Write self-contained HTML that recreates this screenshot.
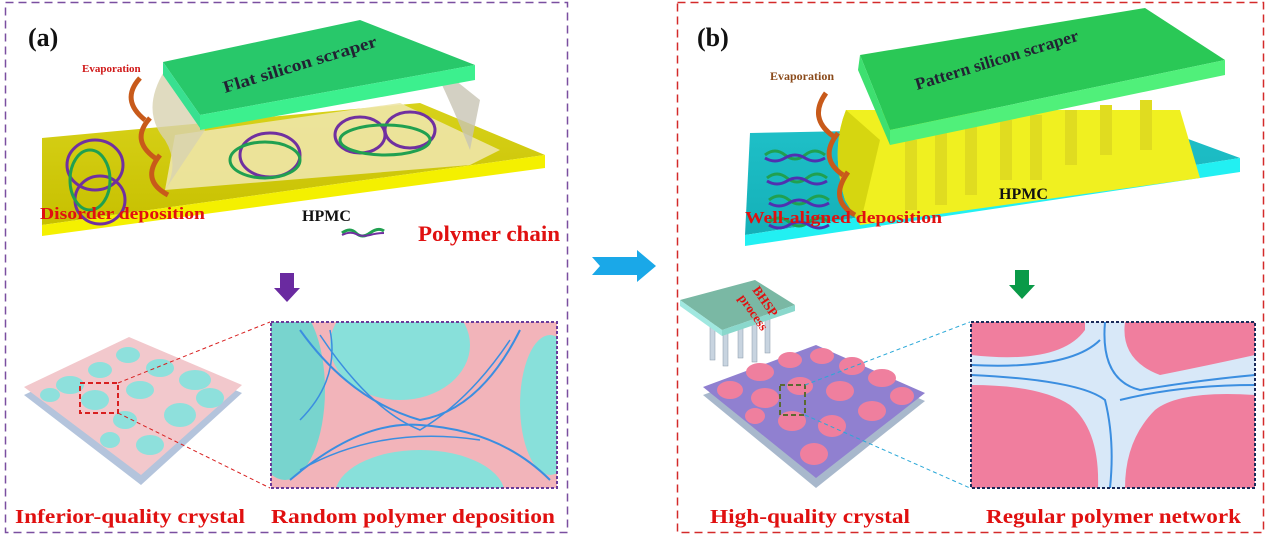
<!DOCTYPE html>
<html><head><meta charset="utf-8"><style>
html,body{margin:0;padding:0;background:#fff;}
svg{display:block;}
text{font-family:"Liberation Serif",serif;font-weight:bold;}
</style></head><body>
<svg width="1267" height="540" viewBox="0 0 1267 540" xmlns="http://www.w3.org/2000/svg">
<defs>
<linearGradient id="gy" x1="0" y1="0" x2="0" y2="1"><stop offset="0" stop-color="#d8d21a"/><stop offset="1" stop-color="#c7c000"/></linearGradient>
<linearGradient id="cy" x1="0" y1="0" x2="0" y2="1"><stop offset="0" stop-color="#1fc0c8"/><stop offset="1" stop-color="#14b0b8"/></linearGradient>
<clipPath id="ca"><rect x="271" y="322" width="286" height="166"/></clipPath>
<clipPath id="cb"><rect x="971" y="322" width="284" height="166"/></clipPath>
</defs>
<rect x="5.5" y="2.5" width="562" height="530" fill="none" stroke="#7a4fa0" stroke-width="1.5" stroke-dasharray="8,5"/>
<rect x="677.5" y="2.5" width="586" height="530" fill="none" stroke="#d42a2a" stroke-width="1.5" stroke-dasharray="8,5"/>

<!-- ===== Panel A ===== -->
<text x="28" y="46" font-size="26" fill="#111">(a)</text>
<polygon points="42,225 42,138 420,103 545,155" fill="url(#gy)"/>
<polygon points="42,225 545,155 545,168 42,236" fill="#f4f000"/>
<polygon points="165,190 175,135 400,103 500,150 470,165" fill="#eee6a8" opacity="0.9"/>
<path d="M165,70 Q140,110 165,140 Q180,165 165,190 L205,130 Z" fill="#d8d2b0" opacity="0.8"/>
<path d="M430,60 Q450,100 470,150 L480,100 Z" fill="#c8c4b4" opacity="0.8"/>
<polygon points="163,62 360,20 475,65 200,115" fill="#28c86a"/>
<polygon points="163,62 200,115 200,128 163,75" fill="#38e090"/>
<polygon points="200,115 475,65 475,80 200,130" fill="#3cf08e"/>
<text x="0" y="0" font-size="17" fill="#223" transform="translate(225,93) rotate(-17)" textLength="160" lengthAdjust="spacingAndGlyphs">Flat silicon scraper</text>
<g fill="none" stroke-width="3">
<ellipse cx="95" cy="165" rx="28" ry="25" stroke="#7030a0"/><ellipse cx="100" cy="200" rx="25" ry="24" stroke="#7030a0"/>
<ellipse cx="90" cy="180" rx="20" ry="30" stroke="#20a050"/>
<ellipse cx="270" cy="155" rx="30" ry="22" stroke="#7030a0"/><ellipse cx="265" cy="160" rx="35" ry="18" stroke="#20a050"/>
<ellipse cx="360" cy="135" rx="25" ry="18" stroke="#7030a0"/><ellipse cx="410" cy="130" rx="25" ry="18" stroke="#7030a0"/>
<ellipse cx="385" cy="140" rx="45" ry="15" stroke="#20a050"/>
</g>
<g fill="none" stroke="#c85a1a" stroke-width="5">
<path d="M168,195 Q140,180 160,155"/><path d="M155,158 Q130,140 150,118"/><path d="M145,120 Q120,100 140,78"/>
</g>
<text x="82" y="72" font-size="11" fill="#d01818">Evaporation</text>
<text x="302" y="221" font-size="16" fill="#111">HPMC</text>
<text x="40" y="219" font-size="17" fill="#e01010" textLength="165" lengthAdjust="spacingAndGlyphs">Disorder deposition</text>
<path d="M342,233 q8,-6 14,0 t14,0 t14,-2" fill="none" stroke="#20a050" stroke-width="3"/>
<path d="M342,235 q8,-4 14,-1 t14,1 t14,-2" fill="none" stroke="#7030a0" stroke-width="2"/>
<text x="418" y="241" font-size="22" fill="#e01010" textLength="142" lengthAdjust="spacingAndGlyphs">Polymer chain</text>
<polygon points="280,273 294,273 294,288 300,288 287,302 274,288 280,288" fill="#6a2aa0"/>
<!-- left crystal plate -->
<polygon points="24,395 129,345 242,393 141,485" fill="#b4c4dc"/>
<polygon points="24,387 129,337 242,385 141,475" fill="#f2c8cc"/>
<g fill="#8ee0dc">
<ellipse cx="70" cy="385" rx="14" ry="9"/><ellipse cx="100" cy="370" rx="12" ry="8"/><ellipse cx="128" cy="355" rx="12" ry="8"/>
<ellipse cx="160" cy="368" rx="14" ry="9"/><ellipse cx="195" cy="380" rx="16" ry="10"/><ellipse cx="210" cy="398" rx="14" ry="10"/>
<ellipse cx="50" cy="395" rx="10" ry="7"/><ellipse cx="95" cy="400" rx="14" ry="10"/><ellipse cx="140" cy="390" rx="14" ry="9"/>
<ellipse cx="180" cy="415" rx="16" ry="12"/><ellipse cx="125" cy="420" rx="12" ry="9"/><ellipse cx="150" cy="445" rx="14" ry="10"/>
<ellipse cx="110" cy="440" rx="10" ry="8"/>
</g>
<rect x="80" y="383" width="38" height="30" fill="none" stroke="#d82020" stroke-width="2" stroke-dasharray="5,3"/>
<line x1="118" y1="383" x2="270" y2="322" stroke="#d82020" stroke-dasharray="4,3"/>
<line x1="118" y1="413" x2="270" y2="488" stroke="#d82020" stroke-dasharray="4,3"/>
<g clip-path="url(#ca)">
<rect x="271" y="322" width="286" height="166" fill="#f2b4ba"/>
<ellipse cx="400" cy="345" rx="70" ry="55" fill="#88e0da"/>
<ellipse cx="420" cy="495" rx="85" ry="45" fill="#88e0da"/>
<ellipse cx="285" cy="390" rx="40" ry="90" fill="#78d4ce"/>
<ellipse cx="550" cy="405" rx="30" ry="70" fill="#88e0da"/>
<path d="M300,330 Q350,400 420,420 Q480,410 520,330 M290,480 Q360,420 420,425 Q500,430 550,480" fill="none" stroke="#3b8ee0" stroke-width="2"/>
<path d="M320,335 Q370,410 420,430 Q470,400 510,340 M300,470 Q380,425 480,440 M330,330 Q340,380 300,420" fill="none" stroke="#3b8ee0" stroke-width="1.5"/>
</g>
<rect x="271" y="322" width="286" height="166" fill="none" stroke="#6a3a9a" stroke-width="2" stroke-dasharray="3,2"/>
<text x="15" y="523" font-size="20" fill="#e01010" textLength="230" lengthAdjust="spacingAndGlyphs">Inferior-quality crystal</text>
<text x="271" y="523" font-size="20" fill="#e01010" textLength="284" lengthAdjust="spacingAndGlyphs">Random polymer deposition</text>

<polygon points="592,257 637,257 637,250 656,266 637,282 637,275 592,275 600,266" fill="#1aa8e8"/>

<!-- ===== Panel B ===== -->
<text x="697" y="46" font-size="26" fill="#111">(b)</text>
<polygon points="745,235 750,133 1150,125 1240,158" fill="url(#cy)"/>
<polygon points="745,235 1240,158 1240,172 745,246" fill="#22f0f2"/>
<path d="M846,110 Q830,150 845,200 L860,225 L1200,178 L1180,110 Z" fill="#f0f020"/>
<path d="M846,110 Q830,150 845,200 L860,225 L880,140 Z" fill="#d6d610"/>
<g fill="#e0dc20">
<rect x="905" y="140" width="12" height="70"/><rect x="935" y="130" width="12" height="75"/><rect x="965" y="125" width="12" height="70"/><rect x="1000" y="120" width="12" height="60"/><rect x="1030" y="115" width="12" height="65"/><rect x="1065" y="110" width="12" height="55"/><rect x="1100" y="105" width="12" height="50"/><rect x="1140" y="100" width="12" height="50"/>
</g>
<polygon points="860,55 1145,8 1225,60 890,130" fill="#2ac856"/>
<polygon points="890,130 1225,60 1225,75 890,145" fill="#50f07a"/>
<polygon points="860,55 890,130 890,145 858,70" fill="#3ee070"/>
<text x="0" y="0" font-size="17" fill="#223" transform="translate(917,90) rotate(-17)" textLength="170" lengthAdjust="spacingAndGlyphs">Pattern silicon scraper</text>
<g fill="none" stroke-width="3">
<path d="M765,155 q10,-8 20,0 t20,0 t20,0" stroke="#20a050"/><path d="M765,158 q10,6 20,0 t20,0 t20,0" stroke="#5030b0"/>
<path d="M767,178 q10,-8 20,0 t20,0 t20,0" stroke="#20a050"/><path d="M767,181 q10,6 20,0 t20,0 t20,0" stroke="#5030b0"/>
<path d="M769,200 q10,-8 20,0 t20,0 t20,0" stroke="#20a050"/><path d="M769,203 q10,6 20,0 t20,0 t20,0" stroke="#5030b0"/>
<path d="M769,222 q10,-8 20,0 t20,0 t20,0" stroke="#20a050"/><path d="M769,225 q10,6 20,0 t20,0 t20,0" stroke="#5030b0"/>
</g>
<g fill="none" stroke="#c85a1a" stroke-width="5">
<path d="M855,215 Q828,200 848,172"/><path d="M843,175 Q818,158 838,133"/><path d="M833,136 Q808,118 826,93"/>
</g>
<text x="770" y="80" font-size="12" fill="#8a4a1a">Evaporation</text>
<text x="999" y="199" font-size="16" fill="#111">HPMC</text>
<text x="745" y="223" font-size="17" fill="#e01010" textLength="197" lengthAdjust="spacingAndGlyphs">Well-aligned deposition</text>
<polygon points="1015,270 1029,270 1029,285 1035,285 1022,299 1009,285 1015,285" fill="#0a9a48"/>
<g fill="#c8d4e0" stroke="#8898a8" stroke-width="0.5">
<rect x="710" y="315" width="5" height="45"/><rect x="723" y="318" width="5" height="48"/><rect x="738" y="318" width="5" height="40"/><rect x="752" y="320" width="5" height="42"/><rect x="765" y="318" width="5" height="35"/>
</g>
<polygon points="680,300 755,280 795,305 722,330" fill="#7ab8a4"/>
<polygon points="680,300 722,330 722,336 680,306" fill="#a0e8e0"/>
<polygon points="722,330 795,305 795,311 722,336" fill="#8ad8cc"/>
<text x="0" y="0" font-size="13" fill="#e01010" transform="translate(752,290) rotate(55)">BHSP</text>
<text x="0" y="0" font-size="13" fill="#e01010" transform="translate(738,298) rotate(55)">process</text>
<!-- right crystal plate -->
<polygon points="703,395 816,353 925,401 816,488" fill="#a8b8cc"/>
<polygon points="703,387 816,345 925,393 816,478" fill="#9080d0"/>
<g fill="#ef7f9e">
<ellipse cx="760" cy="372" rx="14" ry="9"/><ellipse cx="790" cy="360" rx="12" ry="8"/><ellipse cx="822" cy="356" rx="12" ry="8"/><ellipse cx="852" cy="366" rx="13" ry="9"/>
<ellipse cx="882" cy="378" rx="14" ry="9"/><ellipse cx="902" cy="396" rx="12" ry="9"/><ellipse cx="730" cy="390" rx="13" ry="9"/>
<ellipse cx="765" cy="398" rx="14" ry="10"/><ellipse cx="800" cy="386" rx="13" ry="9"/><ellipse cx="840" cy="391" rx="14" ry="10"/>
<ellipse cx="872" cy="411" rx="14" ry="10"/><ellipse cx="792" cy="421" rx="14" ry="10"/><ellipse cx="832" cy="426" rx="14" ry="11"/>
<ellipse cx="814" cy="454" rx="14" ry="11"/><ellipse cx="755" cy="416" rx="10" ry="8"/>
</g>
<rect x="780" y="385" width="25" height="30" fill="none" stroke="#5a6a30" stroke-width="2" stroke-dasharray="5,3"/>
<line x1="805" y1="385" x2="970" y2="322" stroke="#2aa8d8" stroke-dasharray="4,3"/>
<line x1="805" y1="415" x2="970" y2="488" stroke="#2aa8d8" stroke-dasharray="4,3"/>
<g clip-path="url(#cb)">
<rect x="971" y="322" width="284" height="166" fill="#f07e9e"/>
<path d="M971,355 Q1060,365 1085,330 L1085,322 L1125,322 Q1120,360 1160,375 Q1210,365 1255,355 L1255,395 Q1180,390 1155,410 Q1125,440 1125,488 L1098,488 Q1100,430 1070,405 Q1040,385 971,385 Z" fill="#d8e8f8"/>
<path d="M971,365 Q1070,370 1100,340 M971,375 Q1080,380 1105,400 Q1115,440 1110,488 M1105,322 Q1100,380 1140,390 Q1200,380 1255,375 M1120,400 Q1180,385 1255,385" fill="none" stroke="#3b8ee0" stroke-width="2"/>
</g>
<rect x="971" y="322" width="284" height="166" fill="none" stroke="#1a2a5a" stroke-width="2" stroke-dasharray="3,2"/>
<text x="710" y="523" font-size="20" fill="#e01010" textLength="200" lengthAdjust="spacingAndGlyphs">High-quality crystal</text>
<text x="986" y="523" font-size="20" fill="#e01010" textLength="255" lengthAdjust="spacingAndGlyphs">Regular polymer network</text>
</svg>
</body></html>
